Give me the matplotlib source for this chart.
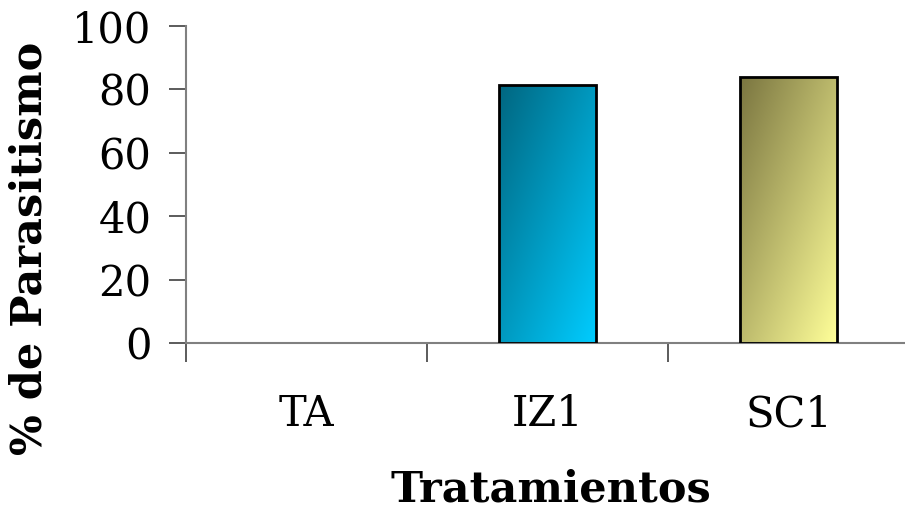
import matplotlib
matplotlib.use("Agg")
import matplotlib.pyplot as plt
import numpy as np
from matplotlib.colors import LinearSegmentedColormap

categories = ["TA", "IZ1", "SC1"]
values = [0, 81.5, 84]
dark_colors = ["#006680", "#006680", "#7A7540"]
light_colors = ["#00CCFF", "#00CCFF", "#FFFF99"]
yticks = [0, 20, 40, 60, 80, 100]

fig = plt.figure(figsize=(9.05, 5.11), dpi=100)
ax = fig.add_axes([186/905, (511-343)/511, 723/905, 317/511])

x = np.arange(len(categories))
edge_w = [2 if v > 0 else 0 for v in values]
bars = ax.bar(x, values, width=0.4, facecolor="none", edgecolor="black", linewidth=edge_w, zorder=3)

# diagonal gradient fill for each bar
gy, gx = np.mgrid[0:1:200j, 0:1:200j]
grad = (gx * 0.5 + gy * 0.5)
for b, dc, lc, v in zip(bars, dark_colors, light_colors, values):
    if v <= 0:
        continue
    cmap = LinearSegmentedColormap.from_list("g", [dc, lc])
    x0, w = b.get_x(), b.get_width()
    im = ax.imshow(grad, cmap=cmap, extent=[x0, x0 + w, 0, v], origin="upper",
                   aspect="auto", zorder=2, interpolation="bilinear")
    im.set_clip_path(b)

ax.set_xlim(-0.5, 2.5)
ax.set_ylim(0, 100)
ax.set_yticks(yticks)
ax.set_yticklabels([str(t) for t in yticks], fontsize=30, family="DejaVu Serif")
ax.set_xticks([-0.5, 0.5, 1.5])
ax.set_xticklabels([])
ax.set_xticks(x, minor=True)
ax.set_xticklabels(categories, minor=True, fontsize=30, family="DejaVu Serif")
ax.tick_params(axis="x", which="minor", length=0, pad=36)
ax.tick_params(axis="x", which="major", length=14, width=1.2, color="#404040", direction="out")
ax.tick_params(axis="y", length=12, width=1.2, color="#404040", direction="out", pad=13)

for s in ["top", "right"]:
    ax.spines[s].set_visible(False)
ax.spines["left"].set_color("#808080")
ax.spines["bottom"].set_color("#808080")
ax.spines["left"].set_linewidth(1.5)
ax.spines["bottom"].set_linewidth(1.5)

fig.text(30/905, 1 - 248/511, "% de Parasitismo", rotation=90, ha="center", va="center",
         fontsize=31, fontweight="bold", family="DejaVu Serif")
fig.text(551/905, 1 - 490/511, "Tratamientos", ha="center", va="center",
         fontsize=31, fontweight="bold", family="DejaVu Serif")

fig.savefig("out.png", dpi=100)
